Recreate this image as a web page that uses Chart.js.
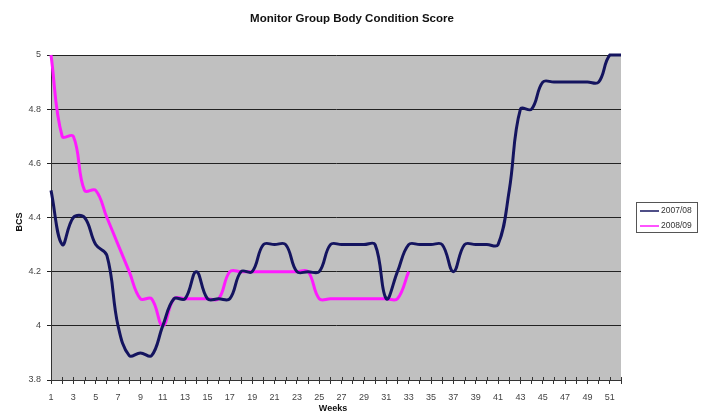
<!DOCTYPE html>
<html>
<head>
<meta charset="utf-8">
<script src="https://cdn.jsdelivr.net/npm/chart.js@4/dist/chart.umd.min.js"></script>
<style>
  html, body { margin: 0; padding: 0; background: #fff; }
  #wrap { width: 707px; height: 412px; position: relative; }
</style>
</head>
<body>
<div id="wrap"><canvas id="bcs-chart"></canvas></div>
<script>
// Weeks 1..52
const weeks = [];
for (let w = 1; w <= 52; w++) weeks.push(String(w));

const season0708 = [4.5, 4.3, 4.4, 4.4, 4.3, 4.26, 4.0, 3.89, 3.9, 3.89,
    4.0, 4.1, 4.1, 4.2, 4.1, 4.1, 4.1, 4.2, 4.2, 4.3,
    4.3, 4.3, 4.2, 4.2, 4.2, 4.3, 4.3, 4.3, 4.3, 4.3,
    4.1, 4.2, 4.3, 4.3, 4.3, 4.3, 4.2, 4.3, 4.3, 4.3,
    4.3, 4.5, 4.8, 4.8, 4.9, 4.9, 4.9, 4.9, 4.9, 4.9,
    5.0, 5.0];

const season0809 = [5.0, 4.7, 4.7, 4.5, 4.5, 4.4, 4.3, 4.2, 4.1, 4.1,
    4.0, 4.1, 4.1, 4.1, 4.1, 4.1, 4.2, 4.2, 4.2, 4.2,
    4.2, 4.2, 4.2, 4.2, 4.1, 4.1, 4.1, 4.1, 4.1, 4.1,
    4.1, 4.1, 4.2];

const seriesNames = ['2007/08', '2008/09'];
const seriesColors = ['#14145f', '#ff1aff'];

const yTicks = [3.8, 4, 4.2, 4.4, 4.6, 4.8, 5];

// gray plot area, titles and the boxed legend
const excelLook = {
    id: 'excelLook',
    beforeDraw(chart) {
        const a = chart.chartArea;
        const ctx = chart.ctx;
        ctx.save();
        ctx.fillStyle = '#c0c0c0';
        ctx.fillRect(a.left, a.top, a.right - a.left, a.bottom - a.top);
        ctx.restore();
    },
    afterDraw(chart) {
        const ctx = chart.ctx;
        const a = chart.chartArea;
        const x = chart.scales.x;
        ctx.save();
        // tick marks crossing the category axis
        ctx.strokeStyle = '#333';
        ctx.lineWidth = 1;
        for (let i = 0; i < weeks.length; i++) {
            const px = Math.round(x.getPixelForValue(i)) + 0.5;
            ctx.beginPath();
            ctx.moveTo(px, a.bottom - 3);
            ctx.lineTo(px, a.bottom);
            ctx.stroke();
        }
        ctx.fillStyle = '#111';
        ctx.textAlign = 'center';
        ctx.textBaseline = 'middle';
        ctx.font = 'bold 11.5px "Liberation Sans", Arial, sans-serif';
        ctx.fillText('Monitor Group Body Condition Score', 352, 19);
        ctx.font = 'bold 9px "Liberation Sans", Arial, sans-serif';
        ctx.fillText('Weeks', 333, 409);
        ctx.translate(20, 222);
        ctx.rotate(-Math.PI / 2);
        ctx.fillText('BCS', 0, 0);
        ctx.restore();

        // legend
        ctx.save();
        ctx.strokeStyle = '#555';
        ctx.lineWidth = 1;
        ctx.strokeRect(636.5, 202.5, 61, 30);
        ctx.font = '8.5px "Liberation Sans", Arial, sans-serif';
        ctx.textAlign = 'left';
        ctx.textBaseline = 'middle';
        seriesNames.forEach((name, i) => {
            const y = 211 + i * 15;
            ctx.strokeStyle = seriesColors[i];
            ctx.lineWidth = 1.5;
            ctx.beginPath();
            ctx.moveTo(640, y);
            ctx.lineTo(659, y);
            ctx.stroke();
            ctx.fillStyle = '#333';
            ctx.fillText(name, 661, y);
        });
        ctx.restore();
    }
};

new Chart(document.getElementById('bcs-chart'), {
    type: 'line',
    data: {
        labels: weeks,
        datasets: [{
            label: seriesNames[0],
            data: season0708,
            borderColor: seriesColors[0],
            borderWidth: 3,
            tension: 0.4,
            pointRadius: 0,
            clip: false
        }, {
            label: seriesNames[1],
            data: season0809,
            borderColor: seriesColors[1],
            borderWidth: 3,
            tension: 0.4,
            pointRadius: 0,
            clip: false
        }]
    },
    options: {
        responsive: true,
        maintainAspectRatio: false,
        animation: false,
        layout: { padding: { top: 55, right: 86, left: 0, bottom: 0 } },
        plugins: {
            legend: { display: false },
            title: { display: false },
            tooltip: { enabled: false }
        },
        scales: {
            x: {
                offset: false,
                afterFit(scale) { scale.height = 32; },
                grid: {
                    display: true,
                    drawOnChartArea: false,
                    drawTicks: true,
                    tickLength: 4,
                    color: '#333'
                },
                border: { color: '#333', width: 1 },
                ticks: {
                    autoSkip: false,
                    maxRotation: 0,
                    padding: 8,
                    color: '#444',
                    font: { family: '"Liberation Sans", Arial, sans-serif', size: 9 },
                    callback: function (v, i) { return i % 2 === 0 ? weeks[i] : ''; }
                }
            },
            y: {
                min: 3.8,
                max: 5,
                afterFit(scale) { scale.width = 51; },
                afterBuildTicks(scale) { scale.ticks = yTicks.map(v => ({ value: v })); },
                grid: {
                    color: '#222',
                    lineWidth: 1,
                    drawTicks: true,
                    tickLength: 4
                },
                border: { color: '#333', width: 1 },
                ticks: {
                    padding: 6,
                    color: '#444',
                    font: { family: '"Liberation Sans", Arial, sans-serif', size: 9 },
                    callback: function (v) { return String(Math.round(v * 10) / 10); }
                }
            }
        }
    },
    plugins: [excelLook]
});
</script>
</body>
</html>
